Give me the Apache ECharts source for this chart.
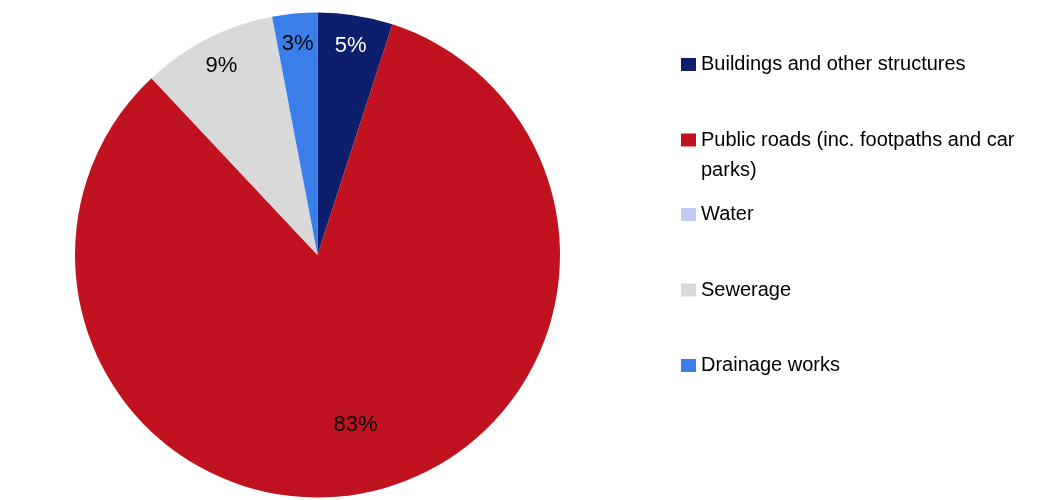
<!DOCTYPE html>
<html>
<head>
<meta charset="utf-8">
<title>Capital spending by asset type</title>
<script src="https://cdn.jsdelivr.net/npm/echarts@6/dist/echarts.min.js"></script>
<style>
  html, body { margin: 0; padding: 0; background: #ffffff; }
  #chart { width: 1054px; height: 500px; }
</style>
</head>
<body>
<div id="chart"></div>
<script>
// Asset categories and their share of spending (per cent)
const categories = [
  'Buildings and other structures',
  'Public roads (inc. footpaths and car parks)',
  'Water',
  'Sewerage',
  'Drainage works'
];
const shares = [5, 83, 0, 9, 3];

// Slice colours and the ink used for each slice's label
const palette = ['#0d1f6c', '#c1121f', '#c1c9f3', '#d9d9d9', '#3b7de9'];
const labelInk = ['#ffffff', '#000000', '#000000', '#000000', '#000000'];

const FONT = '"Liberation Sans", Arial, Helvetica, sans-serif';
const CENTER = [317.5, 255];
const R = 242.5;

// Large slices carry their label nearer the middle, small ones near the rim
const isLarge = v => v > 50;

function labelRing(radius, pick) {
  return {
    type: 'pie',
    silent: true,
    center: CENTER,
    radius: radius,
    startAngle: 90,
    clockwise: true,
    avoidLabelOverlap: false,
    tooltip: { show: false },
    itemStyle: { color: 'rgba(0,0,0,0)', borderWidth: 0 },
    emphasis: { disabled: true },
    labelLine: { show: false },
    data: categories.map((name, i) => ({
      name,
      value: shares[i],
      label: {
        show: shares[i] > 0 && pick(shares[i]),
        position: 'inside',
        formatter: p => p.value + '%',
        color: labelInk[i],
        fontSize: 22,
        fontFamily: FONT
      }
    }))
  };
}

// Legend rows: centre line of each icon, one legend per row.
// A wrapped entry uses a taller icon box whose swatch sits at the top,
// so the swatch stays level with the first line of text.
const rowCentres = [64.5, 140, 214.5, 290, 365.5];
const SWATCH_W = 15, SWATCH_H = 13, LINE_H = 30;
const tallSwatch = `path://M0,0h${SWATCH_W}v${SWATCH_H}h-${SWATCH_W}z` +
                   `M0,${SWATCH_H + LINE_H}h${SWATCH_W}v0h-${SWATCH_W}z`;

const legends = categories.map((name, i) => {
  const twoLines = name.length > 36;
  return {
    data: [{ name, icon: twoLines ? tallSwatch : 'rect' }],
    orient: 'vertical',
    left: 681,
    top: rowCentres[i] - 15,
    padding: 0,
    itemWidth: SWATCH_W,
    itemHeight: twoLines ? SWATCH_H + LINE_H : SWATCH_H,
    selectedMode: false,
    itemStyle: { borderWidth: 0 },
    textStyle: {
      fontSize: 20,
      fontFamily: FONT,
      color: '#000000',
      lineHeight: LINE_H,
      width: 330,
      overflow: 'break'
    }
  };
});

const chart = echarts.init(document.getElementById('chart'), null, { renderer: 'canvas' });
chart.setOption({
  animation: false,
  backgroundColor: '#ffffff',
  color: palette,
  legend: legends,
  series: [
    {
      name: 'Share',
      type: 'pie',
      center: CENTER,
      radius: [0, R],
      startAngle: 90,
      clockwise: true,
      avoidLabelOverlap: false,
      label: { show: false },
      labelLine: { show: false },
      itemStyle: { borderWidth: 0 },
      emphasis: { scale: false },
      data: categories.map((name, i) => ({
        name,
        value: shares[i],
        itemStyle: { color: palette[i] }
      }))
    },
    labelRing([175, R], v => !isLarge(v)),
    labelRing([100, R], v => isLarge(v))
  ]
});
</script>
</body>
</html>
